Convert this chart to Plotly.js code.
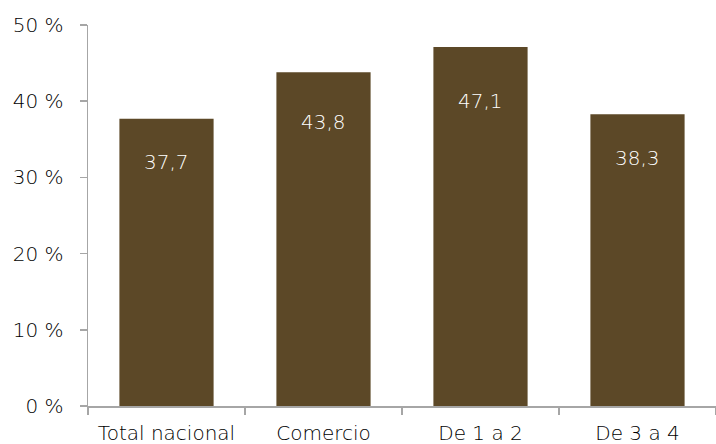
<!DOCTYPE html>
<html>
<head>
<meta charset="utf-8">
<script src="https://cdn.plot.ly/plotly-3.0.1.min.js"></script>
<style>html,body{margin:0;padding:0;background:#fff;}#chart{width:716px;height:444px;}</style>
</head>
<body>
<div id="chart"></div>
<script>
var categories = ["Total nacional", "Comercio", "De 1 a 2", "De 3 a 4"];
var values = [37.7, 43.8, 47.1, 38.3];
var valueLabels = ["37,7", "43,8", "47,1", "38,3"];
var yTickVals = [0, 10, 20, 30, 40, 50];
var yTickText = ["0 %", "10 %", "20 %", "30 %", "40 %", "50 %"];

var barColor = "#5C4827";
var textColor = "#000000";
var axisColor = "#A6A6A6";
var fontFamily = "'DejaVu Sans', sans-serif";
var fontWeight = 200;
var fontSize = 20;

var annotations = categories.map(function (c, i) {
  return {
    x: c, y: values[i] * 0.85, xref: "x", yref: "y",
    text: valueLabels[i], showarrow: false,
    font: {family: fontFamily, size: fontSize, weight: fontWeight, color: "#FFFFFF"}
  };
});

var trace = {
  type: "bar",
  x: categories,
  y: values,
  marker: {color: barColor, line: {width: 0}},
  hoverinfo: "none"
};

var layout = {
  width: 716, height: 444,
  margin: {l: 88, r: 0, t: 25, b: 38},
  paper_bgcolor: "#FFFFFF", plot_bgcolor: "#FFFFFF",
  bargap: 0.4,
  showlegend: false,
  font: {family: fontFamily, size: fontSize, weight: fontWeight, color: textColor},
  xaxis: {
    type: "category",
    showline: true, linecolor: axisColor, linewidth: 1.5,
    ticks: "outside", tickson: "boundaries", ticklen: 7, tickcolor: axisColor, tickwidth: 1.5,
    showgrid: false, zeroline: false, ticklabelstandoff: 8,
    tickfont: {family: fontFamily, size: fontSize, weight: fontWeight, color: textColor}
  },
  yaxis: {
    range: [0, 50],
    tickvals: yTickVals, ticktext: yTickText,
    showline: true, linecolor: axisColor, linewidth: 1.5,
    ticks: "outside", ticklen: 7, tickcolor: axisColor, tickwidth: 1.5,
    showgrid: false, zeroline: false, ticklabelstandoff: 12,
    tickfont: {family: fontFamily, size: fontSize, weight: fontWeight, color: textColor}
  },
  annotations: annotations
};

Plotly.newPlot("chart", [trace], layout, {staticPlot: true, displayModeBar: false});
</script>
</body>
</html>
